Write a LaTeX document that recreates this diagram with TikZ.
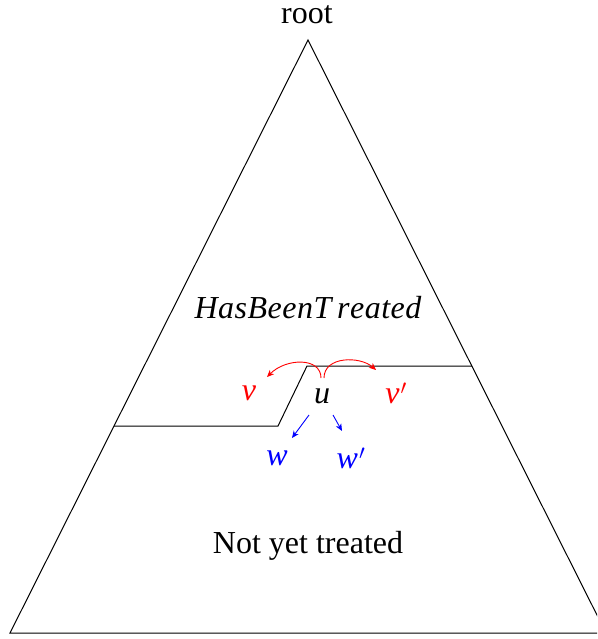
\documentclass[tikz,border=0pt]{standalone}
\usepackage{fontspec}
\setmainfont{Liberation Serif}
\usetikzlibrary{arrows.meta}
\begin{document}
\begin{tikzpicture}[x=1pt,y=-1pt,
  lbl/.style={inner sep=0pt,font=\fontsize{32}{38}\selectfont},
  mlbl/.style={inner sep=0pt,font=\fontsize{32}{38}\selectfont\itshape},
  edge/.style={line width=1pt,line join=miter},
  redarr/.style={red,line width=0.9pt,-{Stealth[length=7pt,width=6pt,inset=2pt]}},
  bluearr/.style={blue,line width=0.9pt,-{Stealth[length=7pt,width=6pt,inset=2pt]}}]
\useasboundingbox (0,0) rectangle (597,639);
\clip (0,0) rectangle (597,639);
\coordinate (top) at (308,40);
\coordinate (bl) at (10,633);
\coordinate (br) at (606,633);
\draw[edge] (top) -- (bl) -- (br) -- cycle;
\coordinate (L) at (114,426);
\coordinate (B) at (278,426);
\coordinate (C) at (307,366);
\coordinate (R) at (471.8,366);
\draw[edge] (L) -- (B) -- (C) -- (R);
\node[lbl] (root) at (307,15) {root};
\node[mlbl] (hbt) at (308,308) {H\kern0.5pt a\kern0.5pt s\kern0.5pt B\kern0.5pt e\kern0.5pt e\kern0.5pt n\kern0.5pt T\,\kern0.5pt r\kern0.5pt e\kern0.5pt a\kern0.5pt t\kern0.5pt e\kern0.5pt d};
\node[lbl] (nyt) at (308,546) {Not yet treated};
\node[mlbl] (u) at (322,396) {u};
\node[mlbl,red] (v) at (249,393) {v};
\node[mlbl,red] (vp) at (396,393) {v\kern1pt$'$};
\node[mlbl,blue] (w) at (277,458) {w};
\node[mlbl,blue] (wp) at (351,458) {w\kern1pt$'$};
\coordinate (ul) at (321,378);
\coordinate (ur) at (324,378);
\coordinate (vt) at (267,377);
\coordinate (vpt) at (376,370);
\draw[redarr] (ul) .. controls (321,357) and (286,358) .. (vt);
\draw[redarr] (ur) .. controls (324,356) and (360,356) .. (vpt);
\coordinate (us1) at (309,415);
\coordinate (us2) at (333,415);
\coordinate (wt) at (292,438);
\coordinate (wpt) at (342,431);
\draw[bluearr] (us1) -- (wt);
\draw[bluearr] (us2) -- (wpt);
\end{tikzpicture}
\end{document}
